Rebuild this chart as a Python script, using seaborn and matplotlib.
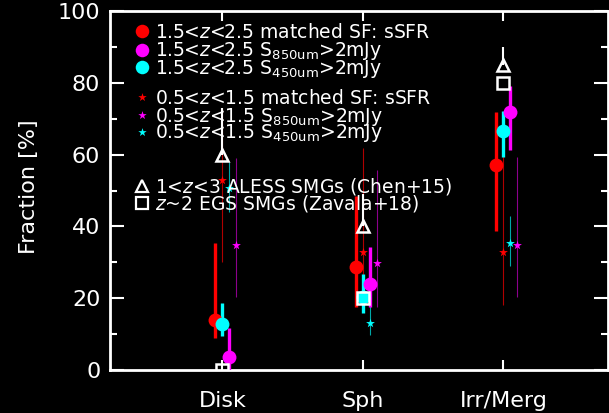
import numpy as np
import pandas as pd
import matplotlib
matplotlib.use("Agg")
import matplotlib.pyplot as plt
import seaborn as sns

# Morphology classes on the x axis
categories = ["Disk", "Sph", "Irr/Merg"]

# 1.5<z<2.5 samples (fraction in %, with lower / upper bounds)
hz_sfr = [14.0, 28.6, 57.0]
hz_sfr_lo = [8.9, 17.5, 38.7]
hz_sfr_hi = [35.3, 48.6, 71.8]

hz_850 = [3.6, 24.0, 72.0]
hz_850_lo = [0.0, 17.5, 61.3]
hz_850_hi = [11.7, 34.2, 79.0]

hz_450 = [12.8, 20.3, 66.5]
hz_450_lo = [9.4, 15.8, 59.4]
hz_450_hi = [18.6, 26.7, 72.2]

# 0.5<z<1.5 samples
lz_sfr = [53.0, 33.0, 33.0]
lz_sfr_lo = [30.0, 17.5, 18.0]
lz_sfr_hi = [73.0, 61.7, 60.3]

lz_850 = [34.7, 29.7, 34.7]
lz_850_lo = [20.3, 17.5, 20.4]
lz_850_hi = [59.0, 55.8, 59.4]

lz_450 = [50.8, 13.0, 35.4]
lz_450_lo = [43.9, 9.7, 28.9]
lz_450_hi = [57.8, 20.3, 42.8]

# Literature SMG samples
chen15 = [60.0, 40.0, 85.0]
chen15_hi = [73.0, 49.0, 90.0]
zavala18 = [0.0, 20.0, 80.0]

yticks = [0, 20, 40, 60, 80, 100]

sns.set_style("ticks", rc={
    "axes.facecolor": "black",
    "figure.facecolor": "black",
    "axes.edgecolor": "white",
    "text.color": "white",
    "axes.labelcolor": "white",
    "xtick.color": "white",
    "ytick.color": "white",
})
plt.rcParams["font.family"] = ["DejaVu Sans"]
plt.rcParams["mathtext.fontset"] = "dejavusans"

fig = plt.figure(figsize=(6.09, 4.13), dpi=100)
ax = fig.add_axes([110 / 609, 43 / 413, 498 / 609, 359 / 413])

RED, MAG, CYA = "#ff0000", "#ff00ff", "#00ffff"
RED_D, MAG_D, CYA_D = "#b00000", "#8c008c", "#00a8a8"

pos = np.arange(1, len(categories) + 1, dtype=float)


def draw(vals, lo, hi, dx, color, ecolor, lw, marker, size, z):
    v = np.asarray(vals)
    x = pos + dx
    yerr = [v - np.asarray(lo), np.asarray(hi) - v]
    ax.errorbar(x, v, yerr=yerr, fmt="none", ecolor=ecolor,
                elinewidth=lw, capsize=0, zorder=z)
    df = pd.DataFrame({"x": x, "y": v})
    sns.scatterplot(data=df, x="x", y="y", ax=ax, color=color,
                    marker=marker, s=size, linewidth=0, zorder=z + 0.5,
                    legend=False)


# low-z samples: thin error bars, small stars
draw(lz_sfr, lz_sfr_lo, lz_sfr_hi, 0.00, RED, RED_D, 0.8, "*", 45, 2)
draw(lz_450, lz_450_lo, lz_450_hi, 0.05, CYA, CYA_D, 0.8, "*", 45, 2)
draw(lz_850, lz_850_lo, lz_850_hi, 0.10, MAG, MAG_D, 0.8, "*", 45, 2)

# high-z samples: thick error bars, filled circles
draw(hz_sfr, hz_sfr_lo, hz_sfr_hi, -0.05, RED, RED, 2.4, "o", 100, 4)
draw(hz_450, hz_450_lo, hz_450_hi, 0.00, CYA, CYA, 2.4, "o", 100, 4)
draw(hz_850, hz_850_lo, hz_850_hi, 0.05, MAG, MAG, 2.4, "o", 100, 4)

# Chen+15 ALESS SMGs
c = np.asarray(chen15)
ax.errorbar(pos, c, yerr=[np.zeros_like(c), np.asarray(chen15_hi) - c],
            fmt="none", ecolor="white", elinewidth=1.5, capsize=0, zorder=6)
ax.plot(pos, c, ls="none", marker="^", ms=9, mfc="none", mec="white",
        mew=1.8, zorder=6.5)
# Zavala+18 EGS SMGs
ax.plot(pos, zavala18, ls="none", marker="s", ms=9, mfc="none", mec="white",
        mew=1.8, zorder=7)

ax.set_xlim(0.2, 3.745)
ax.set_ylim(0, 100)
ax.set_xticks(pos)
ax.set_xticklabels(categories)
ax.set_yticks(yticks)
ax.set_yticks(np.arange(10, 100, 20), minor=True)
ax.set_xlabel("")
ax.set_ylabel("Fraction [%]", fontsize=16)
ax.yaxis.set_label_coords(-0.142, 0.51)

ax.tick_params(axis="both", which="both", direction="in", top=True,
               right=True, width=1.5, labelsize=16)
ax.tick_params(axis="y", which="major", length=10, pad=7)
ax.tick_params(axis="y", which="minor", length=5)
ax.tick_params(axis="x", which="major", length=7, pad=15)
for s in ax.spines.values():
    s.set_visible(True)
    s.set_color("white")
    s.set_linewidth(2)

# Legend block drawn in axes coordinates
def ay(py):
    return (370 - py) / 359.0

mx, tx = 0.064, 0.090
fs = 13.5
rows = [
    ("o", RED, 95, 31, r"1.5<$z$<2.5 matched SF: sSFR"),
    ("o", MAG, 95, 50, r"1.5<$z$<2.5 S$_{\rm 850um}$>2mJy"),
    ("o", CYA, 95, 67, r"1.5<$z$<2.5 S$_{\rm 450um}$>2mJy"),
    ("*", RED, 40, 97, r"0.5<$z$<1.5 matched SF: sSFR"),
    ("*", MAG, 40, 115, r"0.5<$z$<1.5 S$_{\rm 850um}$>2mJy"),
    ("*", CYA, 40, 132, r"0.5<$z$<1.5 S$_{\rm 450um}$>2mJy"),
]
for m, col, sz, py, label in rows:
    ax.scatter([mx], [ay(py)], marker=m, s=sz, color=col, linewidth=0,
               transform=ax.transAxes, zorder=10, clip_on=False)
    ax.text(tx, ay(py + 6.5), label, transform=ax.transAxes, fontsize=fs,
            va="baseline", ha="left", color="white", zorder=10)

ax.plot([mx], [ay(186)], marker="^", ms=9, mfc="none", mec="white", mew=1.6,
        transform=ax.transAxes, clip_on=False, zorder=10)
ax.text(tx, ay(186 + 6.5), r"1<$z$<3 ALESS SMGs (Chen+15)",
        transform=ax.transAxes, fontsize=fs, va="baseline", ha="left",
        color="white", zorder=10)
ax.plot([mx], [ay(203)], marker="s", ms=9, mfc="none", mec="white", mew=1.6,
        transform=ax.transAxes, clip_on=False, zorder=10)
ax.text(tx, ay(203 + 6.5), r"$z$~2 EGS SMGs (Zavala+18)",
        transform=ax.transAxes, fontsize=fs, va="baseline", ha="left",
        color="white", zorder=10)

fig.savefig("out.png", dpi=100, facecolor="black")
